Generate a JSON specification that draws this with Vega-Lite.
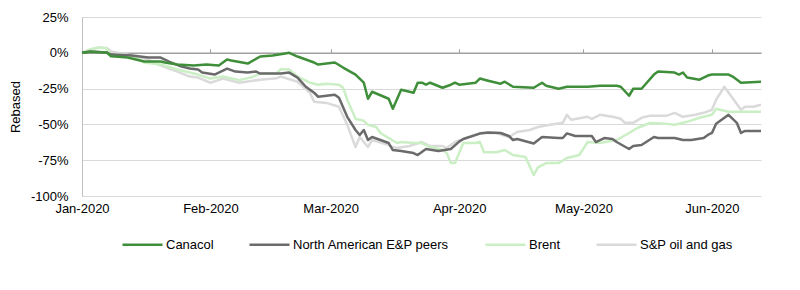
{
  "$schema": "https://vega.github.io/schema/vega-lite/v6.json",
  "width": 679,
  "height": 179,
  "autosize": {"type": "none"},
  "padding": {"left": 82, "top": 17, "right": 39, "bottom": 94},
  "background": "white",
  "config": {
    "font": "Liberation Sans",
    "view": {"stroke": null},
    "axis": {"labelFont": "Liberation Sans", "titleFont": "Liberation Sans"},
    "legend": {"labelFont": "Liberation Sans"}
  },
  "datasets": {
    "series": [
      {"d": "2020-01-01", "s": "S&P oil and gas", "v": 0},
      {"d": "2020-01-03", "s": "S&P oil and gas", "v": 2.3},
      {"d": "2020-01-05", "s": "S&P oil and gas", "v": 3.7},
      {"d": "2020-01-07", "s": "S&P oil and gas", "v": 3.4},
      {"d": "2020-01-08", "s": "S&P oil and gas", "v": 0.9},
      {"d": "2020-01-13", "s": "S&P oil and gas", "v": -1.9},
      {"d": "2020-01-15", "s": "S&P oil and gas", "v": -3.3},
      {"d": "2020-01-17", "s": "S&P oil and gas", "v": -4.7},
      {"d": "2020-01-20", "s": "S&P oil and gas", "v": -8.9},
      {"d": "2020-01-24", "s": "S&P oil and gas", "v": -13.1},
      {"d": "2020-01-27", "s": "S&P oil and gas", "v": -16.6},
      {"d": "2020-01-29", "s": "S&P oil and gas", "v": -17.3},
      {"d": "2020-02-01", "s": "S&P oil and gas", "v": -20.9},
      {"d": "2020-02-04", "s": "S&P oil and gas", "v": -18.0},
      {"d": "2020-02-08", "s": "S&P oil and gas", "v": -20.9},
      {"d": "2020-02-13", "s": "S&P oil and gas", "v": -18.8},
      {"d": "2020-02-17", "s": "S&P oil and gas", "v": -17.7},
      {"d": "2020-02-18", "s": "S&P oil and gas", "v": -16.6},
      {"d": "2020-02-22", "s": "S&P oil and gas", "v": -20.2},
      {"d": "2020-02-25", "s": "S&P oil and gas", "v": -27.9},
      {"d": "2020-02-26", "s": "S&P oil and gas", "v": -34.2},
      {"d": "2020-02-29", "s": "S&P oil and gas", "v": -35.0},
      {"d": "2020-03-03", "s": "S&P oil and gas", "v": -37.7},
      {"d": "2020-03-05", "s": "S&P oil and gas", "v": -50.3},
      {"d": "2020-03-07", "s": "S&P oil and gas", "v": -65.8},
      {"d": "2020-03-08", "s": "S&P oil and gas", "v": -58.8},
      {"d": "2020-03-10", "s": "S&P oil and gas", "v": -65.8},
      {"d": "2020-03-11", "s": "S&P oil and gas", "v": -60.9},
      {"d": "2020-03-15", "s": "S&P oil and gas", "v": -64.4},
      {"d": "2020-03-16", "s": "S&P oil and gas", "v": -65.8},
      {"d": "2020-03-17", "s": "S&P oil and gas", "v": -66.5},
      {"d": "2020-03-20", "s": "S&P oil and gas", "v": -65.1},
      {"d": "2020-03-23", "s": "S&P oil and gas", "v": -62.3},
      {"d": "2020-03-25", "s": "S&P oil and gas", "v": -65.1},
      {"d": "2020-03-28", "s": "S&P oil and gas", "v": -65.1},
      {"d": "2020-03-29", "s": "S&P oil and gas", "v": -66.5},
      {"d": "2020-03-31", "s": "S&P oil and gas", "v": -62.3},
      {"d": "2020-04-02", "s": "S&P oil and gas", "v": -60.2},
      {"d": "2020-04-06", "s": "S&P oil and gas", "v": -56.0},
      {"d": "2020-04-10", "s": "S&P oil and gas", "v": -56.0},
      {"d": "2020-04-13", "s": "S&P oil and gas", "v": -58.8},
      {"d": "2020-04-15", "s": "S&P oil and gas", "v": -55.3},
      {"d": "2020-04-18", "s": "S&P oil and gas", "v": -53.9},
      {"d": "2020-04-20", "s": "S&P oil and gas", "v": -51.8},
      {"d": "2020-04-23", "s": "S&P oil and gas", "v": -50.3},
      {"d": "2020-04-26", "s": "S&P oil and gas", "v": -48.9},
      {"d": "2020-04-27", "s": "S&P oil and gas", "v": -43.3},
      {"d": "2020-04-28", "s": "S&P oil and gas", "v": -46.8},
      {"d": "2020-05-02", "s": "S&P oil and gas", "v": -44.7},
      {"d": "2020-05-03", "s": "S&P oil and gas", "v": -46.1},
      {"d": "2020-05-05", "s": "S&P oil and gas", "v": -43.3},
      {"d": "2020-05-08", "s": "S&P oil and gas", "v": -44.7},
      {"d": "2020-05-10", "s": "S&P oil and gas", "v": -46.1},
      {"d": "2020-05-11", "s": "S&P oil and gas", "v": -48.9},
      {"d": "2020-05-13", "s": "S&P oil and gas", "v": -48.9},
      {"d": "2020-05-15", "s": "S&P oil and gas", "v": -45.4},
      {"d": "2020-05-17", "s": "S&P oil and gas", "v": -44.0},
      {"d": "2020-05-21", "s": "S&P oil and gas", "v": -44.0},
      {"d": "2020-05-23", "s": "S&P oil and gas", "v": -41.9},
      {"d": "2020-05-25", "s": "S&P oil and gas", "v": -44.7},
      {"d": "2020-05-28", "s": "S&P oil and gas", "v": -43.3},
      {"d": "2020-05-30", "s": "S&P oil and gas", "v": -41.9},
      {"d": "2020-06-01", "s": "S&P oil and gas", "v": -39.8},
      {"d": "2020-06-02", "s": "S&P oil and gas", "v": -32.8},
      {"d": "2020-06-04", "s": "S&P oil and gas", "v": -23.7},
      {"d": "2020-06-08", "s": "S&P oil and gas", "v": -39.8},
      {"d": "2020-06-09", "s": "S&P oil and gas", "v": -37.7},
      {"d": "2020-06-11", "s": "S&P oil and gas", "v": -37.7},
      {"d": "2020-06-12T20:00:00Z", "s": "S&P oil and gas", "v": -36.3},

      {"d": "2020-01-01", "s": "Brent", "v": 0},
      {"d": "2020-01-03", "s": "Brent", "v": 2.3},
      {"d": "2020-01-05", "s": "Brent", "v": 3.7},
      {"d": "2020-01-07", "s": "Brent", "v": 3.0},
      {"d": "2020-01-08", "s": "Brent", "v": -1.2},
      {"d": "2020-01-13", "s": "Brent", "v": -1.9},
      {"d": "2020-01-14", "s": "Brent", "v": -3.3},
      {"d": "2020-01-16", "s": "Brent", "v": -6.8},
      {"d": "2020-01-20", "s": "Brent", "v": -8.2},
      {"d": "2020-01-24", "s": "Brent", "v": -11.7},
      {"d": "2020-01-27", "s": "Brent", "v": -13.8},
      {"d": "2020-01-29", "s": "Brent", "v": -15.2},
      {"d": "2020-02-01", "s": "Brent", "v": -18.0},
      {"d": "2020-02-04", "s": "Brent", "v": -16.6},
      {"d": "2020-02-08", "s": "Brent", "v": -19.1},
      {"d": "2020-02-11", "s": "Brent", "v": -17.0},
      {"d": "2020-02-13", "s": "Brent", "v": -14.5},
      {"d": "2020-02-17", "s": "Brent", "v": -14.2},
      {"d": "2020-02-18", "s": "Brent", "v": -11.4},
      {"d": "2020-02-20", "s": "Brent", "v": -11.7},
      {"d": "2020-02-22", "s": "Brent", "v": -16.6},
      {"d": "2020-02-25", "s": "Brent", "v": -20.9},
      {"d": "2020-02-27", "s": "Brent", "v": -22.3},
      {"d": "2020-02-29", "s": "Brent", "v": -21.6},
      {"d": "2020-03-03", "s": "Brent", "v": -22.3},
      {"d": "2020-03-04", "s": "Brent", "v": -24.4},
      {"d": "2020-03-05", "s": "Brent", "v": -32.8},
      {"d": "2020-03-07", "s": "Brent", "v": -46.1},
      {"d": "2020-03-09", "s": "Brent", "v": -47.5},
      {"d": "2020-03-10", "s": "Brent", "v": -50.3},
      {"d": "2020-03-12", "s": "Brent", "v": -51.8},
      {"d": "2020-03-13", "s": "Brent", "v": -56.0},
      {"d": "2020-03-15", "s": "Brent", "v": -59.5},
      {"d": "2020-03-17", "s": "Brent", "v": -63.0},
      {"d": "2020-03-18", "s": "Brent", "v": -62.3},
      {"d": "2020-03-21", "s": "Brent", "v": -63.0},
      {"d": "2020-03-23", "s": "Brent", "v": -63.0},
      {"d": "2020-03-25", "s": "Brent", "v": -65.8},
      {"d": "2020-03-28", "s": "Brent", "v": -67.9},
      {"d": "2020-03-29", "s": "Brent", "v": -70.0},
      {"d": "2020-03-30", "s": "Brent", "v": -77.0},
      {"d": "2020-03-31", "s": "Brent", "v": -77.0},
      {"d": "2020-04-02", "s": "Brent", "v": -63.0},
      {"d": "2020-04-05", "s": "Brent", "v": -63.0},
      {"d": "2020-04-06", "s": "Brent", "v": -62.3},
      {"d": "2020-04-07", "s": "Brent", "v": -69.5},
      {"d": "2020-04-10", "s": "Brent", "v": -69.5},
      {"d": "2020-04-12", "s": "Brent", "v": -67.9},
      {"d": "2020-04-14", "s": "Brent", "v": -71.4},
      {"d": "2020-04-17", "s": "Brent", "v": -72.8},
      {"d": "2020-04-19", "s": "Brent", "v": -85.4},
      {"d": "2020-04-20", "s": "Brent", "v": -80.0},
      {"d": "2020-04-22", "s": "Brent", "v": -77.0},
      {"d": "2020-04-25", "s": "Brent", "v": -77.0},
      {"d": "2020-04-27", "s": "Brent", "v": -73.5},
      {"d": "2020-04-30", "s": "Brent", "v": -71.4},
      {"d": "2020-05-02", "s": "Brent", "v": -62.3},
      {"d": "2020-05-05", "s": "Brent", "v": -63.0},
      {"d": "2020-05-09", "s": "Brent", "v": -60.9},
      {"d": "2020-05-12", "s": "Brent", "v": -56.0},
      {"d": "2020-05-14", "s": "Brent", "v": -52.5},
      {"d": "2020-05-17", "s": "Brent", "v": -49.0},
      {"d": "2020-05-21", "s": "Brent", "v": -49.6},
      {"d": "2020-05-23", "s": "Brent", "v": -50.3},
      {"d": "2020-05-26", "s": "Brent", "v": -48.2},
      {"d": "2020-05-29", "s": "Brent", "v": -45.4},
      {"d": "2020-06-01", "s": "Brent", "v": -43.3},
      {"d": "2020-06-02", "s": "Brent", "v": -39.1},
      {"d": "2020-06-05", "s": "Brent", "v": -41.2},
      {"d": "2020-06-12T20:00:00Z", "s": "Brent", "v": -41.2},

      {"d": "2020-01-01", "s": "North American E&P peers", "v": 0},
      {"d": "2020-01-03", "s": "North American E&P peers", "v": 0.9},
      {"d": "2020-01-07", "s": "North American E&P peers", "v": 0.2},
      {"d": "2020-01-08", "s": "North American E&P peers", "v": -1.2},
      {"d": "2020-01-13", "s": "North American E&P peers", "v": -1.9},
      {"d": "2020-01-15", "s": "North American E&P peers", "v": -2.6},
      {"d": "2020-01-17", "s": "North American E&P peers", "v": -3.3},
      {"d": "2020-01-20", "s": "North American E&P peers", "v": -3.3},
      {"d": "2020-01-22", "s": "North American E&P peers", "v": -6.1},
      {"d": "2020-01-25", "s": "North American E&P peers", "v": -9.6},
      {"d": "2020-01-27", "s": "North American E&P peers", "v": -11.0},
      {"d": "2020-01-29", "s": "North American E&P peers", "v": -11.7},
      {"d": "2020-01-30", "s": "North American E&P peers", "v": -13.8},
      {"d": "2020-02-02", "s": "North American E&P peers", "v": -15.2},
      {"d": "2020-02-03", "s": "North American E&P peers", "v": -13.8},
      {"d": "2020-02-05", "s": "North American E&P peers", "v": -11.0},
      {"d": "2020-02-07", "s": "North American E&P peers", "v": -13.1},
      {"d": "2020-02-10", "s": "North American E&P peers", "v": -13.8},
      {"d": "2020-02-12", "s": "North American E&P peers", "v": -13.1},
      {"d": "2020-02-13", "s": "North American E&P peers", "v": -14.5},
      {"d": "2020-02-18", "s": "North American E&P peers", "v": -14.5},
      {"d": "2020-02-20", "s": "North American E&P peers", "v": -13.8},
      {"d": "2020-02-22", "s": "North American E&P peers", "v": -17.3},
      {"d": "2020-02-24", "s": "North American E&P peers", "v": -23.7},
      {"d": "2020-02-26", "s": "North American E&P peers", "v": -27.9},
      {"d": "2020-02-27", "s": "North American E&P peers", "v": -30.7},
      {"d": "2020-02-29", "s": "North American E&P peers", "v": -30.0},
      {"d": "2020-03-02", "s": "North American E&P peers", "v": -29.3},
      {"d": "2020-03-03", "s": "North American E&P peers", "v": -31.4},
      {"d": "2020-03-05", "s": "North American E&P peers", "v": -44.7},
      {"d": "2020-03-07", "s": "North American E&P peers", "v": -53.9},
      {"d": "2020-03-08", "s": "North American E&P peers", "v": -57.4},
      {"d": "2020-03-09", "s": "North American E&P peers", "v": -53.9},
      {"d": "2020-03-10", "s": "North American E&P peers", "v": -60.9},
      {"d": "2020-03-11", "s": "North American E&P peers", "v": -58.8},
      {"d": "2020-03-15", "s": "North American E&P peers", "v": -63.0},
      {"d": "2020-03-16", "s": "North American E&P peers", "v": -67.9},
      {"d": "2020-03-18", "s": "North American E&P peers", "v": -68.6},
      {"d": "2020-03-21", "s": "North American E&P peers", "v": -70.0},
      {"d": "2020-03-22", "s": "North American E&P peers", "v": -71.4},
      {"d": "2020-03-24", "s": "North American E&P peers", "v": -67.2},
      {"d": "2020-03-27", "s": "North American E&P peers", "v": -68.6},
      {"d": "2020-03-30", "s": "North American E&P peers", "v": -67.2},
      {"d": "2020-04-01", "s": "North American E&P peers", "v": -62.0},
      {"d": "2020-04-02", "s": "North American E&P peers", "v": -60.2},
      {"d": "2020-04-06", "s": "North American E&P peers", "v": -56.4},
      {"d": "2020-04-08", "s": "North American E&P peers", "v": -55.6},
      {"d": "2020-04-11", "s": "North American E&P peers", "v": -56.0},
      {"d": "2020-04-13", "s": "North American E&P peers", "v": -58.1},
      {"d": "2020-04-14", "s": "North American E&P peers", "v": -60.9},
      {"d": "2020-04-15", "s": "North American E&P peers", "v": -60.2},
      {"d": "2020-04-19", "s": "North American E&P peers", "v": -63.3},
      {"d": "2020-04-21", "s": "North American E&P peers", "v": -58.8},
      {"d": "2020-04-25", "s": "North American E&P peers", "v": -59.5},
      {"d": "2020-04-26", "s": "North American E&P peers", "v": -59.5},
      {"d": "2020-04-27", "s": "North American E&P peers", "v": -56.3},
      {"d": "2020-04-29", "s": "North American E&P peers", "v": -58.1},
      {"d": "2020-05-03", "s": "North American E&P peers", "v": -58.1},
      {"d": "2020-05-04", "s": "North American E&P peers", "v": -62.3},
      {"d": "2020-05-06", "s": "North American E&P peers", "v": -59.5},
      {"d": "2020-05-08", "s": "North American E&P peers", "v": -60.2},
      {"d": "2020-05-09", "s": "North American E&P peers", "v": -62.3},
      {"d": "2020-05-12", "s": "North American E&P peers", "v": -67.2},
      {"d": "2020-05-13", "s": "North American E&P peers", "v": -65.1},
      {"d": "2020-05-15", "s": "North American E&P peers", "v": -64.4},
      {"d": "2020-05-18", "s": "North American E&P peers", "v": -58.8},
      {"d": "2020-05-19", "s": "North American E&P peers", "v": -59.5},
      {"d": "2020-05-23", "s": "North American E&P peers", "v": -59.5},
      {"d": "2020-05-25", "s": "North American E&P peers", "v": -60.9},
      {"d": "2020-05-27", "s": "North American E&P peers", "v": -60.9},
      {"d": "2020-05-30", "s": "North American E&P peers", "v": -59.5},
      {"d": "2020-05-31", "s": "North American E&P peers", "v": -57.4},
      {"d": "2020-06-01", "s": "North American E&P peers", "v": -56.0},
      {"d": "2020-06-02", "s": "North American E&P peers", "v": -49.6},
      {"d": "2020-06-05", "s": "North American E&P peers", "v": -43.3},
      {"d": "2020-06-07", "s": "North American E&P peers", "v": -48.9},
      {"d": "2020-06-08", "s": "North American E&P peers", "v": -56.0},
      {"d": "2020-06-09", "s": "North American E&P peers", "v": -54.6},
      {"d": "2020-06-12T20:00:00Z", "s": "North American E&P peers", "v": -54.6},

      {"d": "2020-01-01", "s": "Canacol", "v": 0},
      {"d": "2020-01-03", "s": "Canacol", "v": 0.7},
      {"d": "2020-01-07", "s": "Canacol", "v": 0.2},
      {"d": "2020-01-08", "s": "Canacol", "v": -2.4},
      {"d": "2020-01-09", "s": "Canacol", "v": -2.6},
      {"d": "2020-01-12", "s": "Canacol", "v": -3.3},
      {"d": "2020-01-16", "s": "Canacol", "v": -6.1},
      {"d": "2020-01-20", "s": "Canacol", "v": -6.1},
      {"d": "2020-01-21", "s": "Canacol", "v": -6.8},
      {"d": "2020-01-24", "s": "Canacol", "v": -8.2},
      {"d": "2020-01-28", "s": "Canacol", "v": -8.9},
      {"d": "2020-01-31", "s": "Canacol", "v": -8.2},
      {"d": "2020-02-03", "s": "Canacol", "v": -8.9},
      {"d": "2020-02-05", "s": "Canacol", "v": -4.7},
      {"d": "2020-02-06", "s": "Canacol", "v": -5.4},
      {"d": "2020-02-10", "s": "Canacol", "v": -7.5},
      {"d": "2020-02-13", "s": "Canacol", "v": -2.6},
      {"d": "2020-02-16", "s": "Canacol", "v": -1.9},
      {"d": "2020-02-19", "s": "Canacol", "v": -0.5},
      {"d": "2020-02-20", "s": "Canacol", "v": 0},
      {"d": "2020-02-22", "s": "Canacol", "v": -2.6},
      {"d": "2020-02-24", "s": "Canacol", "v": -4.7},
      {"d": "2020-02-26", "s": "Canacol", "v": -6.8},
      {"d": "2020-02-27", "s": "Canacol", "v": -8.2},
      {"d": "2020-02-29", "s": "Canacol", "v": -7.5},
      {"d": "2020-03-02", "s": "Canacol", "v": -6.8},
      {"d": "2020-03-04", "s": "Canacol", "v": -10.3},
      {"d": "2020-03-07", "s": "Canacol", "v": -15.2},
      {"d": "2020-03-08", "s": "Canacol", "v": -18.0},
      {"d": "2020-03-09", "s": "Canacol", "v": -20.9},
      {"d": "2020-03-10", "s": "Canacol", "v": -32.1},
      {"d": "2020-03-11", "s": "Canacol", "v": -27.2},
      {"d": "2020-03-15", "s": "Canacol", "v": -32.1},
      {"d": "2020-03-16", "s": "Canacol", "v": -39.1},
      {"d": "2020-03-18", "s": "Canacol", "v": -25.8},
      {"d": "2020-03-21", "s": "Canacol", "v": -27.9},
      {"d": "2020-03-22", "s": "Canacol", "v": -20.9},
      {"d": "2020-03-23", "s": "Canacol", "v": -20.9},
      {"d": "2020-03-24", "s": "Canacol", "v": -22.3},
      {"d": "2020-03-25", "s": "Canacol", "v": -20.9},
      {"d": "2020-03-28", "s": "Canacol", "v": -24.4},
      {"d": "2020-03-30", "s": "Canacol", "v": -22.3},
      {"d": "2020-03-31", "s": "Canacol", "v": -20.9},
      {"d": "2020-04-01", "s": "Canacol", "v": -22.3},
      {"d": "2020-04-05", "s": "Canacol", "v": -20.9},
      {"d": "2020-04-06", "s": "Canacol", "v": -18.0},
      {"d": "2020-04-08", "s": "Canacol", "v": -19.5},
      {"d": "2020-04-11", "s": "Canacol", "v": -21.6},
      {"d": "2020-04-12", "s": "Canacol", "v": -20.2},
      {"d": "2020-04-14", "s": "Canacol", "v": -23.7},
      {"d": "2020-04-19", "s": "Canacol", "v": -24.4},
      {"d": "2020-04-21", "s": "Canacol", "v": -20.9},
      {"d": "2020-04-22", "s": "Canacol", "v": -23.0},
      {"d": "2020-04-25", "s": "Canacol", "v": -25.1},
      {"d": "2020-04-27", "s": "Canacol", "v": -23.7},
      {"d": "2020-05-02", "s": "Canacol", "v": -23.7},
      {"d": "2020-05-05", "s": "Canacol", "v": -23.0},
      {"d": "2020-05-09", "s": "Canacol", "v": -23.0},
      {"d": "2020-05-10", "s": "Canacol", "v": -23.7},
      {"d": "2020-05-12", "s": "Canacol", "v": -30.0},
      {"d": "2020-05-13", "s": "Canacol", "v": -25.1},
      {"d": "2020-05-15", "s": "Canacol", "v": -25.1},
      {"d": "2020-05-18", "s": "Canacol", "v": -15.2},
      {"d": "2020-05-19", "s": "Canacol", "v": -13.1},
      {"d": "2020-05-23", "s": "Canacol", "v": -13.8},
      {"d": "2020-05-24", "s": "Canacol", "v": -15.2},
      {"d": "2020-05-25", "s": "Canacol", "v": -13.8},
      {"d": "2020-05-26", "s": "Canacol", "v": -17.3},
      {"d": "2020-05-29", "s": "Canacol", "v": -18.8},
      {"d": "2020-05-31", "s": "Canacol", "v": -15.9},
      {"d": "2020-06-01", "s": "Canacol", "v": -15.2},
      {"d": "2020-06-05", "s": "Canacol", "v": -15.2},
      {"d": "2020-06-06", "s": "Canacol", "v": -16.6},
      {"d": "2020-06-08", "s": "Canacol", "v": -20.9},
      {"d": "2020-06-12T20:00:00Z", "s": "Canacol", "v": -20.2}
    ]
  },
  "data": {"name": "series"},
  "layer": [
    {
      "mark": {"type": "line", "strokeJoin": "round"},
      "encoding": {
        "x": {
          "field": "d",
          "type": "temporal",
          "scale": {
            "type": "utc",
            "domain": [
              {"year": 2020, "month": 1, "date": 1, "utc": true},
              {"year": 2020, "month": 6, "date": 12, "hours": 20, "utc": true}
            ]
          },
          "axis": {
            "orient": "bottom",
            "values": [
              {"year": 2020, "month": 1, "date": 1, "utc": true},
              {"year": 2020, "month": 2, "date": 1, "utc": true},
              {"year": 2020, "month": 3, "date": 1, "utc": true},
              {"year": 2020, "month": 4, "date": 1, "utc": true},
              {"year": 2020, "month": 5, "date": 1, "utc": true},
              {"year": 2020, "month": 6, "date": 1, "utc": true}
            ],
            "format": "%b-%Y",
            "labelFlush": false,
            "labelOverlap": false,
            "domain": false,
            "ticks": false,
            "grid": false,
            "labelFontSize": 13,
            "labelColor": "#000000",
            "labelPadding": 6,
            "title": null
          }
        },
        "y": {
          "field": "v",
          "type": "quantitative",
          "scale": {"domain": [-100, 25], "nice": false, "zero": false},
          "axis": {
            "values": [-100, -75, -50, -25, 0, 25],
            "labelExpr": "datum.value + '%'",
            "labelOverlap": false,
            "domain": true,
            "domainColor": "#BFBFBF",
            "domainWidth": 1,
            "ticks": false,
            "grid": true,
            "gridColor": "#D9D9D9",
            "gridWidth": 1,
            "labelFontSize": 13,
            "labelColor": "#000000",
            "labelPadding": 14,
            "title": "Rebased",
            "titleFontSize": 13,
            "titleFontWeight": "normal",
            "titleColor": "#000000",
            "titlePadding": 8
          }
        },
        "color": {
          "field": "s",
          "type": "nominal",
          "scale": {
            "domain": ["Canacol", "North American E&P peers", "Brent", "S&P oil and gas"],
            "range": ["#3F8E3A", "#6B6B6B", "#CBEFC4", "#DADADA"]
          },
          "legend": {
            "orient": "none",
            "legendX": 39,
            "legendY": 206,
            "direction": "horizontal",
            "title": null,
            "symbolType": "stroke",
            "symbolSize": 1600,
            "labelFontSize": 13,
            "labelColor": "#000000",
            "columnPadding": 30,
            "labelOffset": 2,
            "padding": 0
          }
        },
        "strokeWidth": {
          "field": "s",
          "type": "nominal",
          "scale": {
            "domain": ["Canacol", "North American E&P peers", "Brent", "S&P oil and gas"],
            "range": [2.5, 2.5, 1.8, 2.5]
          },
          "legend": {
            "orient": "none",
            "legendX": 39,
            "legendY": 206,
            "direction": "horizontal",
            "title": null,
            "symbolType": "stroke",
            "symbolSize": 1600,
            "labelFontSize": 13,
            "labelColor": "#000000",
            "columnPadding": 30,
            "labelOffset": 2,
            "padding": 0
          }
        }
      }
    },
    {
      "mark": {"type": "point", "opacity": 0},
      "encoding": {
        "x": {
          "field": "d",
          "type": "temporal",
          "axis": {
            "orient": "top",
            "offset": -35.8,
            "values": [
              {"year": 2020, "month": 1, "date": 1, "utc": true},
              {"year": 2020, "month": 2, "date": 1, "utc": true},
              {"year": 2020, "month": 3, "date": 1, "utc": true},
              {"year": 2020, "month": 4, "date": 1, "utc": true},
              {"year": 2020, "month": 5, "date": 1, "utc": true},
              {"year": 2020, "month": 6, "date": 1, "utc": true}
            ],
            "labels": false,
            "domain": true,
            "domainColor": "#A0A0A0",
            "domainWidth": 1.5,
            "ticks": true,
            "tickColor": "#A0A0A0",
            "tickSize": 4,
            "tickWidth": 1,
            "grid": false,
            "title": null
          }
        }
      }
    }
  ],
  "resolve": {"axis": {"x": "independent"}}
}
